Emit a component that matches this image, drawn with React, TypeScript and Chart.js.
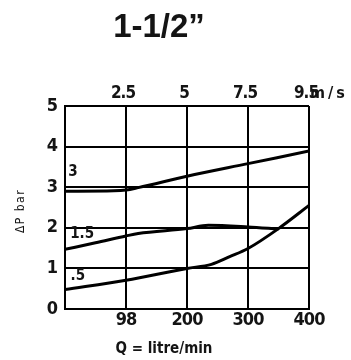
import React, { useEffect, useRef } from 'react';
import { Chart, registerables } from 'chart.js';

Chart.register(...registerables);

// ---- data ----
const chartTitle = '1-1/2\u201D';
const flowTitle = 'Q = litre/min';
const velocityUnit = 'm/s';
const pressureTitle = '\u0394P bar';

const flowTicks = [0, 100, 200, 300, 400];
const flowTickLabels = ['', '98', '200', '300', '400'];
const velocityTickLabels = ['', '2.5', '5', '7.5', '9.5'];
const pressureTicks = [0, 1, 2, 3, 4, 5];

const curve3Q = [0, 80, 100, 120, 200, 300, 400];
const curve3P = [2.9, 2.91, 2.93, 2.99, 3.27, 3.58, 3.89];
const curve15Q = [0, 50, 100, 120, 200, 235, 300, 350];
const curve15P = [1.47, 1.63, 1.8, 1.86, 1.98, 2.06, 2.02, 1.97];
const curve05Q = [0, 100, 200, 240, 270, 300, 350, 400];
const curve05P = [0.48, 0.71, 1.0, 1.1, 1.29, 1.49, 1.98, 2.55];

const curveNames = ['3', '1.5', '.5'];
const curveLabelQ = [13, 28, 21];
const curveLabelP = [3.36, 1.84, 0.82];

const NARROW = "'Liberation Sans Narrow', 'DejaVu Sans Condensed', 'Roboto', sans-serif";
const INK = '#141414';

const toPoints = (qs: number[], ps: number[]) => qs.map((q, i) => ({ x: q, y: ps[i] }));

const annotate = {
  id: 'annotate',
  beforeDraw(chart: any) {
    (chart.ctx as any).letterSpacing = '-1px';
  },
  afterDraw(chart: any) {
    const ctx = chart.ctx as any;
    ctx.save();
    ctx.fillStyle = INK;

    // main title
    ctx.letterSpacing = '0px';
    ctx.font = "bold 33px 'Liberation Sans', Arial, sans-serif";
    ctx.textAlign = 'center';
    ctx.textBaseline = 'alphabetic';
    ctx.fillText(chartTitle, 159, 37);

    // x title
    ctx.font = `bold 15px ${NARROW}`;
    ctx.letterSpacing = '0px';
    ctx.textBaseline = 'middle';
    ctx.fillText(flowTitle, 164, 349);

    // velocity unit
    ctx.textAlign = 'left';
    ctx.letterSpacing = '3px';
    ctx.font = `bold 16px ${NARROW}`;
    ctx.fillText(velocityUnit, 310, 94);

    // y title
    ctx.save();
    ctx.translate(21, 211);
    ctx.rotate(-Math.PI / 2);
    ctx.font = `12px ${NARROW}`;
    ctx.letterSpacing = '1.5px';
    ctx.textAlign = 'center';
    ctx.fillText(pressureTitle, 0, 0);
    ctx.restore();

    // curve labels
    const xs = chart.scales.x;
    const ys = chart.scales.y;
    ctx.font = `bold 15px ${NARROW}`;
    ctx.letterSpacing = '0px';
    ctx.textAlign = 'center';
    ctx.textBaseline = 'middle';
    curveNames.forEach((n, i) => {
      ctx.fillText(n, xs.getPixelForValue(curveLabelQ[i]), ys.getPixelForValue(curveLabelP[i]));
    });
    ctx.restore();
  },
};

export default function App() {
  const ref = useRef<HTMLCanvasElement | null>(null);

  useEffect(() => {
    if (!ref.current) return;
    const lineStyle = {
      borderColor: '#000',
      borderWidth: 3,
      pointRadius: 0,
      fill: false,
      cubicInterpolationMode: 'monotone' as const,
    };
    const chart = new Chart(ref.current, {
      type: 'line',
      data: {
        datasets: [
          { label: curveNames[0], data: toPoints(curve3Q, curve3P), ...lineStyle },
          { label: curveNames[1], data: toPoints(curve15Q, curve15P), ...lineStyle },
          { label: curveNames[2], data: toPoints(curve05Q, curve05P), ...lineStyle },
        ],
      },
      options: {
        animation: false,
        responsive: false,
        layout: { padding: { left: 0, right: 42, top: 0, bottom: 0 } },
        plugins: {
          legend: { display: false },
          tooltip: { enabled: false },
          title: { display: false },
        },
        scales: {
          x: {
            type: 'linear',
            position: 'bottom',
            min: 0,
            max: 400,
            afterBuildTicks: (s: any) => {
              s.ticks = flowTicks.map((v) => ({ value: v }));
            },
            afterFit: (s: any) => {
              s.height = 51;
              s.paddingLeft = 0;
              s.paddingRight = 0;
            },
            ticks: {
              autoSkip: false,
              maxRotation: 0,
              padding: 2,
              color: INK,
              font: { family: NARROW, size: 18, weight: 'bold', lineHeight: 1 },
              callback: (v: any) => flowTickLabels[flowTicks.indexOf(Number(v))] ?? '',
            },
            grid: { color: '#000', lineWidth: 2, drawTicks: false },
            border: { color: '#000', width: 2 },
          },
          x2: {
            type: 'linear',
            position: 'top',
            min: 0,
            max: 400,
            afterBuildTicks: (s: any) => {
              s.ticks = flowTicks.map((v) => ({ value: v }));
            },
            afterFit: (s: any) => {
              s.height = 106;
              s.paddingLeft = 0;
              s.paddingRight = 0;
            },
            ticks: {
              autoSkip: false,
              maxRotation: 0,
              padding: 4,
              labelOffset: -3,
              color: INK,
              font: { family: NARROW, size: 17, weight: 'bold', lineHeight: 1 },
              callback: (v: any) => velocityTickLabels[flowTicks.indexOf(Number(v))] ?? '',
            },
            grid: { display: false, drawTicks: false },
            border: { display: false },
          },
          y: {
            type: 'linear',
            position: 'left',
            min: 0,
            max: 5,
            afterBuildTicks: (s: any) => {
              s.ticks = pressureTicks.map((v) => ({ value: v }));
            },
            afterFit: (s: any) => {
              s.width = 65;
            },
            ticks: {
              padding: 8,
              color: INK,
              font: { family: NARROW, size: 18, weight: 'bold', lineHeight: 1 },
              callback: (v: any) => String(v),
            },
            grid: { color: '#000', lineWidth: 2, drawTicks: false },
            border: { color: '#000', width: 2 },
          },
        },
      },
      plugins: [annotate],
    });
    return () => chart.destroy();
  }, []);

  return (
    <div style={{ position: 'absolute', left: 0, top: 0, width: 351, height: 360, background: '#fff' }}>
      <canvas ref={ref} width={351} height={360} style={{ display: 'block' }} />
    </div>
  );
}
